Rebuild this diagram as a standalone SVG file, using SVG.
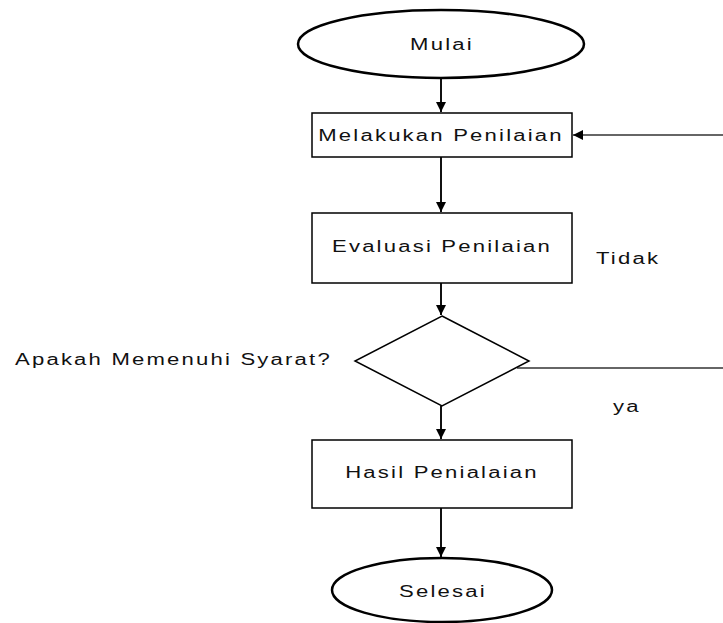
<svg xmlns="http://www.w3.org/2000/svg" width="723" height="623" viewBox="0 0 723 623">
<style>
text{font-family:"Liberation Sans",Arial,sans-serif;font-size:16px;fill:#111;letter-spacing:1.6px}
.m{text-anchor:middle}
.t{stroke:#000;stroke-width:2.5;fill:#fff}
.b{stroke:#000;stroke-width:1.5;fill:#fff}
.c{stroke:#111;stroke-width:2;fill:none}
.c2{stroke:#333;stroke-width:1.3;fill:none}
</style>
<defs>
<marker id="ah" viewBox="0 0 10 10" refX="10" refY="5" markerWidth="10" markerHeight="10" markerUnits="userSpaceOnUse" orient="auto">
<path d="M0,0 L10,5 L0,10 Z" fill="#000"/>
</marker>
</defs>
<rect width="723" height="623" fill="#fff"/>
<g id="connectors">
<line class="c" x1="441" y1="78" x2="441" y2="112" marker-end="url(#ah)"/>
<line class="c" x1="441" y1="157" x2="441" y2="212" marker-end="url(#ah)"/>
<line class="c" x1="441" y1="283" x2="441" y2="315" marker-end="url(#ah)"/>
<line class="c" x1="441" y1="406" x2="441" y2="439" marker-end="url(#ah)"/>
<line class="c" x1="441" y1="508" x2="441" y2="557" marker-end="url(#ah)"/>
<line class="c2" x1="517" y1="368" x2="723" y2="368"/>
<line class="c2" x1="723" y1="135" x2="573" y2="135" marker-end="url(#ah)"/>
</g>
<g id="mulai">
<ellipse class="t" cx="441" cy="44" rx="143" ry="34"/>
<text class="m" transform="translate(442,50) scale(1.38,1)">Mulai</text>
</g>
<g id="melakukan">
<rect class="b" x="312" y="113" width="260" height="44"/>
<text class="m" transform="translate(441,141) scale(1.38,1)">Melakukan Penilaian</text>
</g>
<g id="evaluasi">
<rect class="b" x="312" y="213" width="260" height="70"/>
<text class="m" transform="translate(442,252) scale(1.38,1)">Evaluasi Penilaian</text>
</g>
<g id="keputusan">
<polygon class="b" points="442,316 529,361 442,406 355,361"/>
<text transform="translate(15,365) scale(1.38,1)">Apakah Memenuhi Syarat?</text>
</g>
<g id="hasil">
<rect class="b" x="312" y="440" width="260" height="68"/>
<text class="m" transform="translate(442,478) scale(1.38,1)">Hasil Penialaian</text>
</g>
<g id="selesai">
<ellipse class="t" cx="442" cy="590" rx="110" ry="32"/>
<text class="m" transform="translate(443,597) scale(1.38,1)">Selesai</text>
</g>
<g id="labels">
<text transform="translate(596,264) scale(1.38,1)">Tidak</text>
<text transform="translate(613,412) scale(1.38,1)">ya</text>
</g>
</svg>
